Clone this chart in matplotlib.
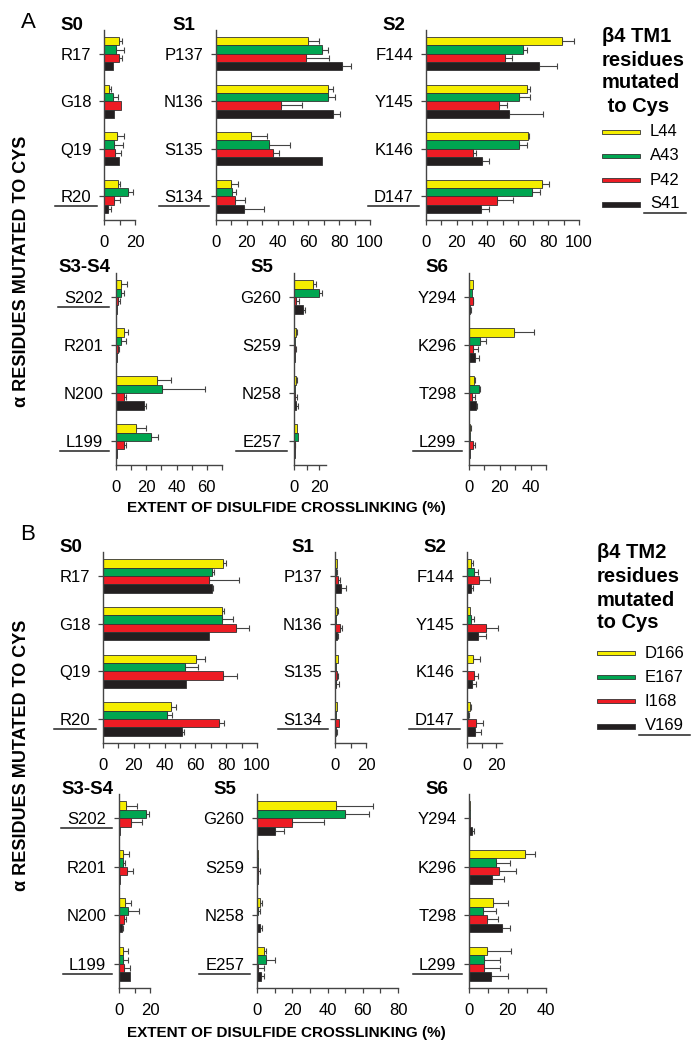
import numpy as np
import matplotlib
matplotlib.use('Agg')
from matplotlib import pyplot as plt
from matplotlib.lines import Line2D
from matplotlib.patches import Rectangle
from matplotlib.transforms import IdentityTransform

plt.rcParams['font.family'] = ['Liberation Sans', 'DejaVu Sans']

# series order in every group (top to bottom): yellow, green, red, black
tm1_names = ['L44', 'A43', 'P42', 'S41']
tm2_names = ['D166', 'E167', 'I168', 'V169']

s0_res = ['R17', 'G18', 'Q19', 'R20']
s1_res = ['P137', 'N136', 'S135', 'S134']
s2_res = ['F144', 'Y145', 'K146', 'D147']
s34_res = ['S202', 'R201', 'N200', 'L199']
s5_res = ['G260', 'S259', 'N258', 'E257']
s6_res = ['Y294', 'K296', 'T298', 'L299']
underlined = ['R20', 'S134', 'D147', 'S202', 'L199', 'E257', 'L299']

# ---- A: beta4 TM1 residues ----
a_s0_val = [[9.5, 3.2, 8.2, 8.8], [7.7, 5.8, 6.2, 15.5], [9.7, 11.0, 7.1, 6.2], [6.0, 6.7, 9.9, 2.8]]
a_s0_err = [[2.0, 1.0, 4.5, 1.5], [5.0, 3.0, 6.0, 3.5], [2.0, 0, 4.0, 4.0], [0, 0, 0, 1.5]]
a_s1_val = [[60, 72.5, 23, 9.5], [69, 73, 34.7, 10.4], [58.4, 42, 36.9, 12.4], [82, 76, 68.8, 18.4]]
a_s1_err = [[7, 3.7, 10.4, 5], [4, 4, 13.5, 2.4], [15, 14, 4, 6.5], [5.5, 4.3, 0, 12.8]]
a_s2_val = [[88.7, 66.3, 66.5, 75.7], [63.7, 60.9, 61, 69.6], [51.5, 48, 31, 46.7], [74, 54, 36.3, 35.9]]
a_s2_err = [[8, 1.7, 1, 4.6], [2.2, 7, 4.8, 5], [4.8, 5.2, 1.7, 10.4], [11.7, 22.4, 4.6, 5.4]]
a_s34_val = [[3, 5, 27, 13.1], [3, 3.5, 30.2, 23.2], [1.5, 1.5, 5, 5], [0.4, 0.5, 18.2, 0.7]]
a_s34_err = [[4.2, 2.8, 9.4, 6.4], [2.2, 3.3, 28.7, 4.8], [1, 0.5, 1.8, 1.3], [0, 0, 1.8, 0]]
a_s5_val = [[15.5, 1.6, 1.6, 2.7], [19.7, 1, 1, 2.9], [1.3, 0.8, 0.8, 0.5], [6.9, 0.5, 1.3, 0.8]]
a_s5_err = [[2.4, 0.8, 1, 0], [2.4, 0, 0, 0], [2.4, 1, 1.8, 0.5], [1.9, 0, 1.6, 0]]
a_s6_val = [[2.6, 29, 3, 0.4], [2, 7.4, 6.5, 0.4], [2.4, 2.6, 2, 2.4], [0.7, 4.1, 4.6, 0.4]]
a_s6_err = [[0, 13.3, 0.6, 0.9], [0, 3.9, 0.9, 0], [0.4, 3.5, 2, 1.7], [0.6, 2.2, 0.4, 0]]

# ---- B: beta4 TM2 residues ----
b_s0_val = [[77.6, 77.2, 60.4, 44.1], [70.7, 77.2, 53.5, 41.7], [69, 86.3, 77.8, 75], [71, 69.1, 53.7, 51.3]]
b_s0_err = [[2.2, 1.5, 6, 3.3], [1.3, 7, 8.5, 3.3], [19.4, 8.3, 9, 3.3], [0.6, 0, 0, 1.3]]
b_s1_val = [[1.5, 1.3, 1.7, 1.3], [0.4, 0.9, 0.4, 0.4], [1.7, 3, 1.3, 2.4], [4.1, 1.3, 0.6, 0.9]]
b_s1_err = [[0, 0.8, 0, 0], [0.6, 0, 0, 0], [1.3, 1.7, 0.9, 0], [3.3, 0.8, 1.7, 0.6]]
b_s2_val = [[3, 2.1, 4.2, 1.9], [4.7, 2.8, 0, 0.9], [8.4, 13.3, 4.7, 6.3], [2.6, 7.7, 3.7, 5.3]]
b_s2_err = [[1, 0, 4.7, 0.9], [2.8, 1.9, 0, 0.5], [7.4, 7.7, 2.6, 4.9], [1.6, 5.6, 2.8, 4.4]]
b_s34_val = [[4.3, 2.4, 3.9, 2.6], [17.2, 2.4, 5.9, 2.6], [7.6, 5.4, 3.3, 3.3], [0.4, 0.4, 2.2, 7]]
b_s34_err = [[7, 4.1, 4.1, 3.3], [2.2, 1.5, 6.7, 3.3], [7.4, 3.9, 1, 3.7], [0, 0, 0.4, 0]]
b_s5_val = [[44.6, 0.5, 1.9, 4], [49.7, 0.4, 0.4, 5.1], [20, 0.3, 0.2, 0.4], [10, 0.8, 1.5, 2.3]]
b_s5_err = [[21, 0, 1, 1], [13.8, 0, 1.1, 5.1], [18, 1.5, 0, 3.4], [5.5, 0, 1.5, 1.5]]
b_s6_val = [[0.3, 29.2, 12.5, 9.4], [0.5, 13.9, 7.1, 7.7], [0.5, 15.7, 9.4, 7.8], [1.7, 12, 16.9, 11.3]]
b_s6_err = [[0, 5.2, 8, 12.5], [0, 7.6, 7, 8.2], [0, 8.5, 5.7, 8.4], [0.7, 6.4, 4.3, 8.9]]

colors = ['#f5ee00', '#00a651', '#ed1c24', '#231f20']
W, H = 694, 1050

fig = plt.figure(figsize=(W / 100, H / 100), dpi=100)


def px_axes(left, top, right, bottom):
    return fig.add_axes([left / W, 1 - bottom / H, (right - left) / W, (bottom - top) / H])


def draw_panel(ax, title, residues, vals, errs, xmax):
    pos = np.arange(len(residues))
    h = 0.175
    for i in range(4):
        yy = pos + (i - 1.5) * h
        v = np.asarray(vals[i], float)
        e = np.asarray(errs[i], float)
        ax.barh(yy, v, height=h, color=colors[i], edgecolor='#333333', linewidth=0.6, zorder=2)
        m = e > 0
        if m.any():
            ax.errorbar(v[m], yy[m], xerr=[np.zeros(m.sum()), e[m]], fmt='none',
                        ecolor='#444444', elinewidth=0.8, capsize=2.2, capthick=0.8, zorder=1)
    ax.set_ylim(len(residues) - 0.5, -0.5)
    ax.set_xlim(0, xmax)
    ax.set_yticks(pos, residues)
    ax.set_xticks(np.arange(0, xmax + 0.01, 20))
    ax.set_xticks(np.arange(0, xmax + 0.01, 10), minor=True)
    for s in ['top', 'right']:
        ax.spines[s].set_visible(False)
    for s in ['left', 'bottom']:
        ax.spines[s].set_color('#444444')
        ax.spines[s].set_linewidth(1.0)
    ax.tick_params(axis='both', which='both', length=3.6, width=0.9, color='#444444', labelsize=12)
    ax.tick_params(axis='y', pad=5.5)
    ax.tick_params(axis='x', pad=7.5)
    ax.patch.set_alpha(0)
    ax.annotate(title, xy=(0, 1), xycoords='axes fraction', xytext=(-32, 5),
                textcoords='offset pixels', ha='center', va='center',
                fontsize=13.5, fontweight='bold')


panels = [
    ((104, 30, 135, 220), 'S0', s0_res, a_s0_val, a_s0_err, 20),
    ((216, 30, 370, 220), 'S1', s1_res, a_s1_val, a_s1_err, 100),
    ((426, 30, 579, 220), 'S2', s2_res, a_s2_val, a_s2_err, 100),
    ((116, 273, 222, 465), 'S3-S4', s34_res, a_s34_val, a_s34_err, 70),
    ((294, 273, 326, 465), 'S5', s5_res, a_s5_val, a_s5_err, 25.6),
    ((469, 273, 546, 465), 'S6', s6_res, a_s6_val, a_s6_err, 50),
    ((103, 552, 257, 743), 'S0', s0_res, b_s0_val, b_s0_err, 100),
    ((335, 552, 366, 743), 'S1', s1_res, b_s1_val, b_s1_err, 20),
    ((467, 552, 502, 743), 'S2', s2_res, b_s2_val, b_s2_err, 24),
    ((119, 794, 150, 988), 'S3-S4', s34_res, b_s34_val, b_s34_err, 20),
    ((257, 794, 398, 988), 'S5', s5_res, b_s5_val, b_s5_err, 80),
    ((469, 794, 546, 988), 'S6', s6_res, b_s6_val, b_s6_err, 40),
]

axes = []
for box, title, res, val, err, xmax in panels:
    ax = px_axes(*box)
    draw_panel(ax, title, res, val, err, xmax)
    axes.append(ax)


def ftext(x, y, s, **kw):
    return fig.text(x / W, 1 - y / H, s, **kw)


def draw_legend(title_lines, names, x0, title_y, item_y):
    for line, y in zip(title_lines, title_y):
        ftext(x0, y, line, fontsize=14.5, fontweight='bold', va='center', ha='left')
    texts = []
    for i, (name, y) in enumerate(zip(names, item_y)):
        hh = 5 if i == 3 else 4
        fig.add_artist(Rectangle((x0 / W, 1 - (y + hh / 2) / H), 38 / W, hh / H,
                                 transform=fig.transFigure, facecolor=colors[i],
                                 edgecolor='#333333', linewidth=0.6))
        texts.append(ftext(x0 + 48, y, name, fontsize=12, va='center', ha='left'))
    return texts[-1]


leg_a = draw_legend(['\u03b24 TM1', 'residues', 'mutated', ' to Cys'], tm1_names,
                    602, [37, 60, 83, 107], [132, 156, 180, 204])
leg_b = draw_legend(['\u03b24 TM2', 'residues', 'mutated', 'to Cys'], tm2_names,
                    597, [553, 577, 600, 623], [653, 677, 701, 726])

ftext(28, 22, 'A', fontsize=16, ha='center', va='center')
ftext(28, 535, 'B', fontsize=16, ha='center', va='center')
for yc in [271, 755]:
    ftext(22, yc, '\u03b1 RESIDUES MUTATED TO CYS', rotation=90, fontsize=13,
          fontweight='bold', ha='center', va='center')
for yc in [508, 1033]:
    ftext(286, yc, 'EXTENT OF DISULFIDE CROSSLINKING (%)', fontsize=11,
          fontweight='bold', ha='center', va='center')

# underline marked residues and the last legend entries
fig.canvas.draw()
renderer = fig.canvas.get_renderer()
marked = []
for ax in axes:
    for lab in ax.get_yticklabels():
        if lab.get_text() in underlined:
            marked.append(lab)
marked += [leg_a, leg_b]
for t in marked:
    bb = t.get_window_extent(renderer)
    fig.add_artist(Line2D([bb.x0 - 6, bb.x1 + 6], [bb.y0 - 1, bb.y0 - 1],
                          transform=IdentityTransform(), color='#222222', linewidth=1.1))

fig.savefig('out.png', dpi=100)
